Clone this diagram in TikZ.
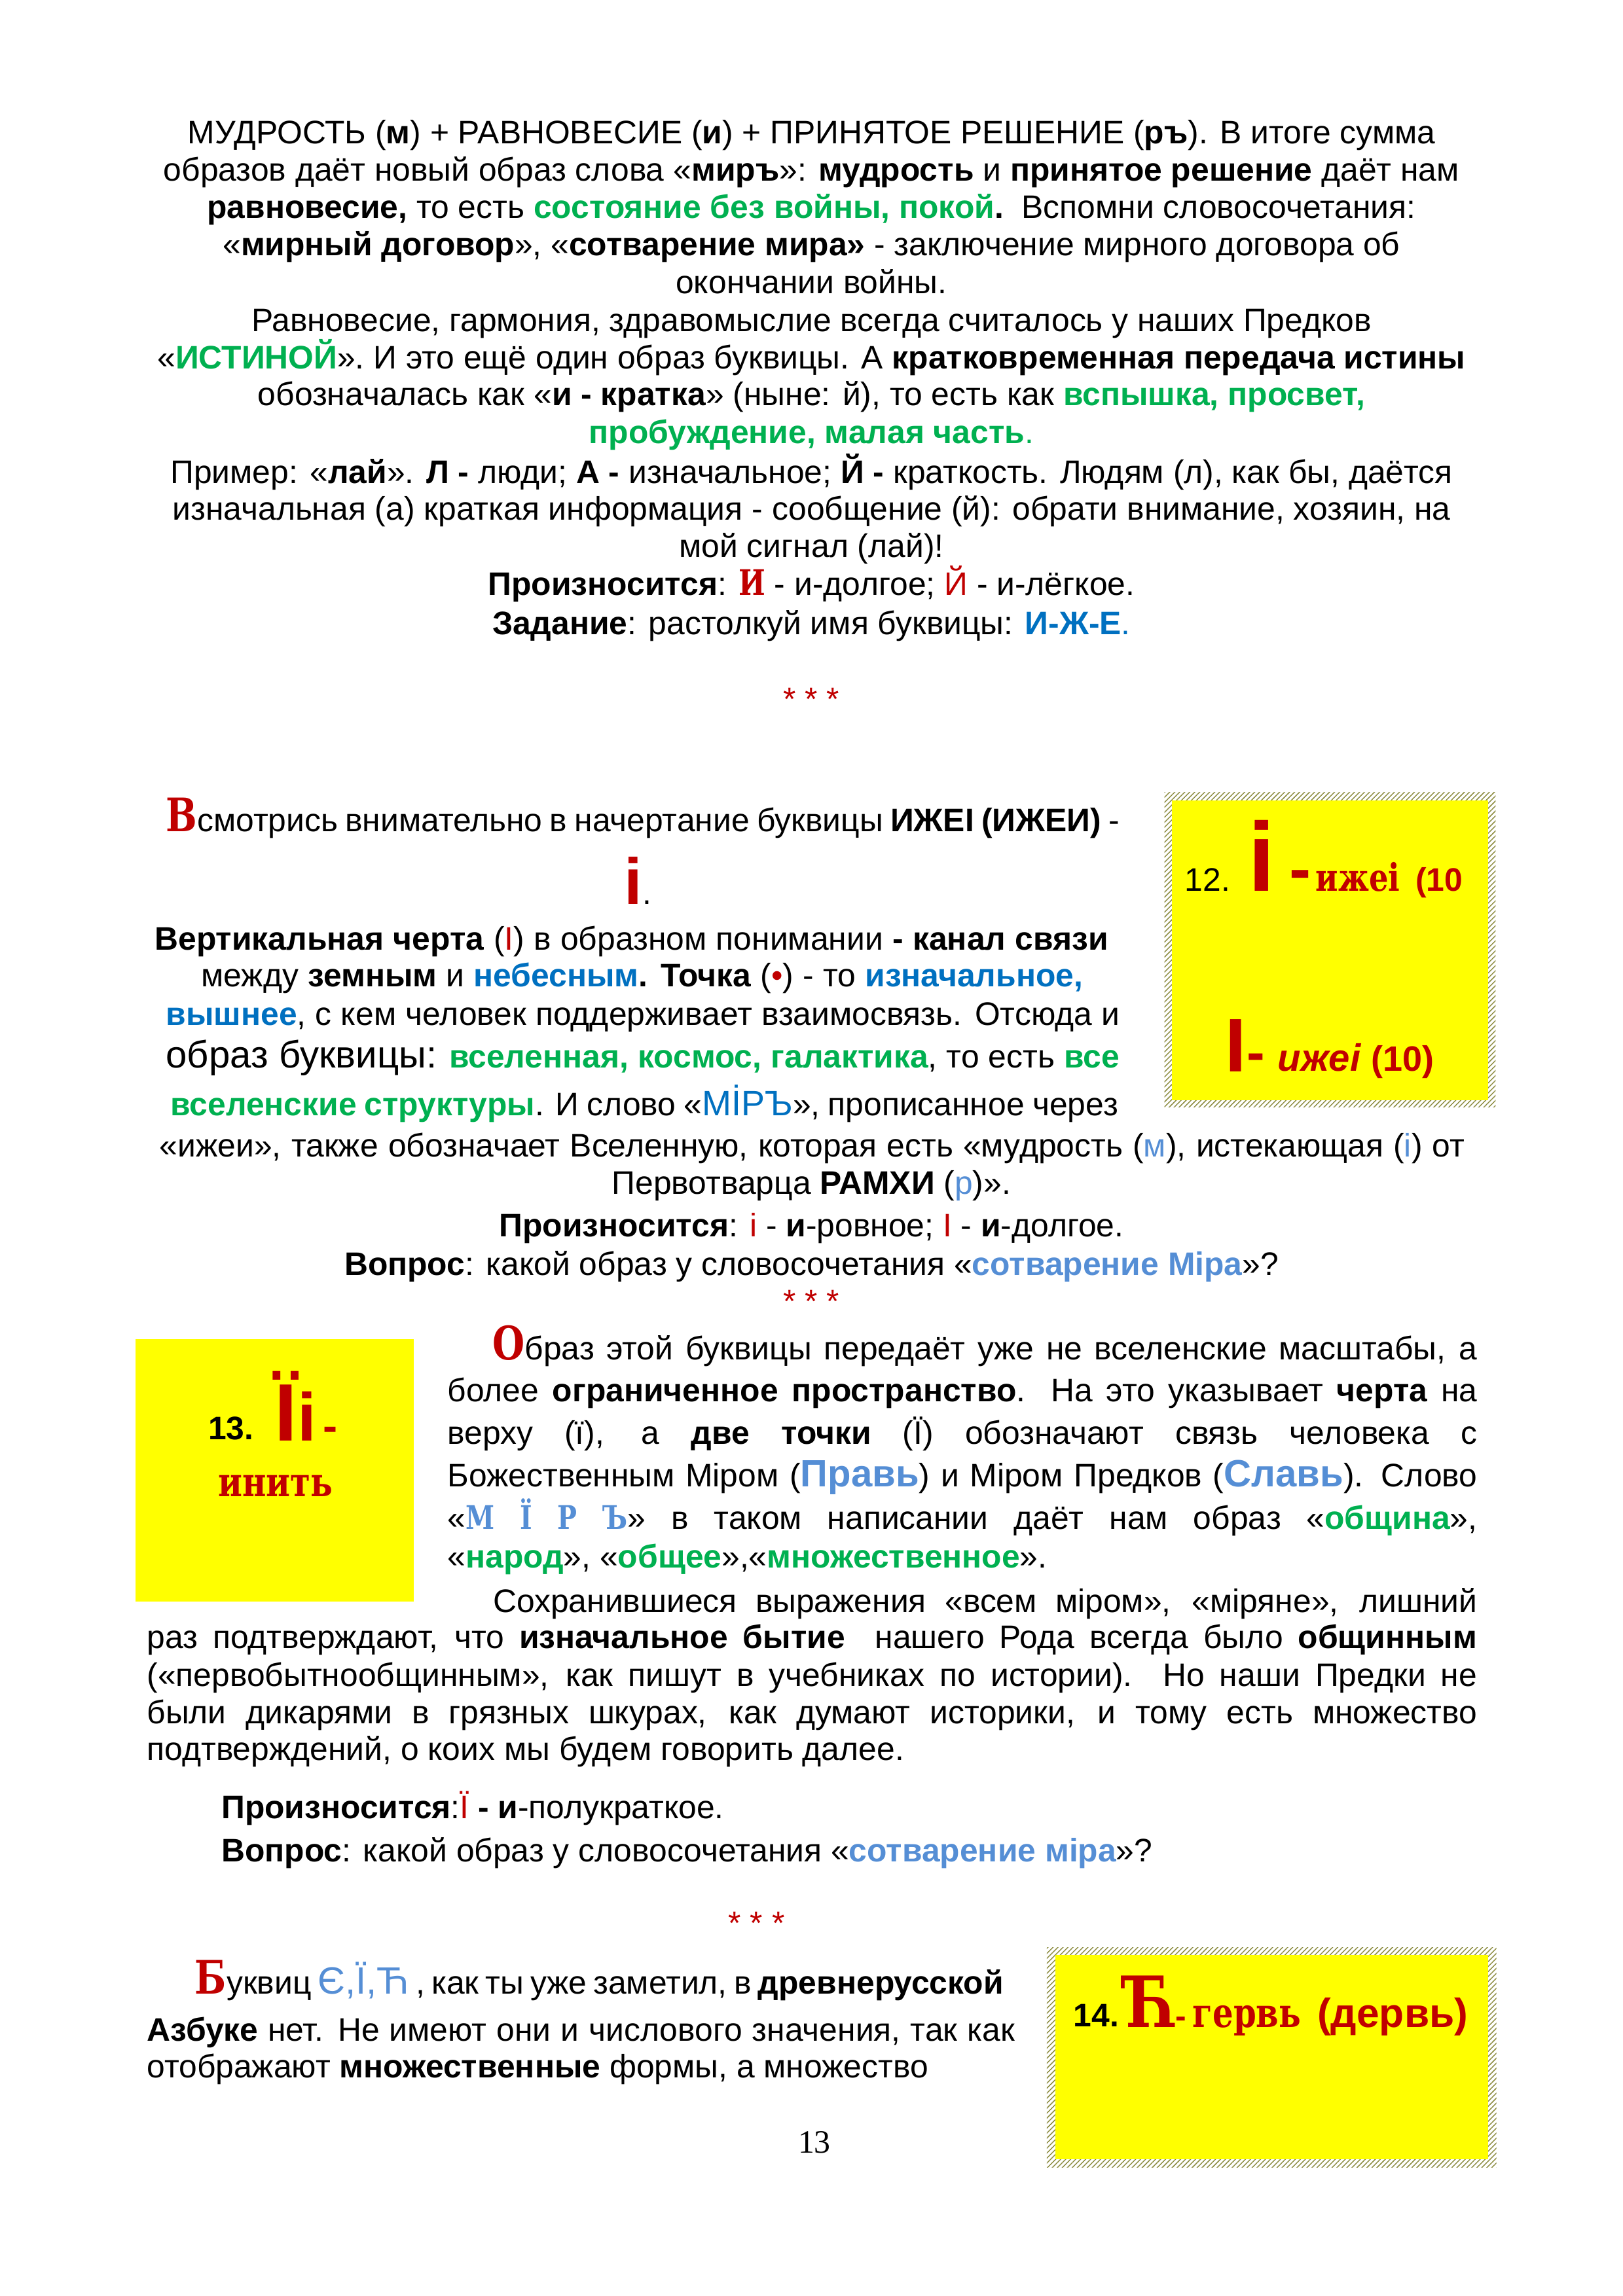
\documentclass[tikz,border=0pt]{standalone}
\usepackage{fontspec}
\setmainfont{Liberation Sans}
\newfontfamily\slav[FakeStretch=0.8]{DejaVu Serif}
\newfontfamily\tms{Liberation Serif}
\usetikzlibrary{patterns.meta}

\definecolor{rd}{HTML}{C00000}
\definecolor{gn}{HTML}{00B050}
\definecolor{bl}{HTML}{0070C0}
\definecolor{lb}{HTML}{558ED5}
\definecolor{yl}{HTML}{FFFF00}

\newlength\px
\setlength\px{0.0189531cm}
\newcommand\fsz[1]{\fontsize{#1}{#1}\selectfont}
\newcommand\grn[1]{\textcolor{gn}{\bfseries #1}}
\newcommand\blu[1]{\textcolor{bl}{\bfseries #1}}
\newcommand\lblu[1]{\textcolor{lb}{\bfseries #1}}
\newcommand\lbl[1]{\textcolor{lb}{#1}}
\newcommand\redt[1]{\textcolor{rd}{#1}}

\tikzset{
  ln/.style={anchor=base west, inner sep=0pt},
  mid/.style={anchor=base, inner sep=0pt},
  stars/.style={anchor=base, inner sep=0pt, text=rd},
  hatch/.style={pattern={Lines[angle=45,distance=1.3pt,line width=0.35pt]}, pattern color=black!50!olive!60},
  ybox/.style={fill=yl}
}

\begin{document}
\begin{tikzpicture}[x=0.0189531cm, y=-0.0189531cm, font=\fontsize{12}{14}\selectfont]
    \useasboundingbox (0,0) rectangle (1108,1568);

    % boxes
    \fill[hatch] (795,541) rectangle (1021,756);
    \fill[ybox] (800,546.6) rectangle (1016,751.3);
    \fill[ybox] (92.6,914.5) rectangle (282.5,1093.7);
    \fill[hatch] (714.7,1330) rectangle (1021.6,1480);
    \fill[ybox] (720.5,1335) rectangle (1016,1474.5);

    % top part
    \node[mid] (l1) at (554,98.3) {МУДРОСТЬ (\textbf{м}) + РАВНОВЕСИЕ (\textbf{и}) + ПРИНЯТОЕ РЕШЕНИЕ (\textbf{ръ}). В итоге сумма};
    \node[mid] (l2) at (554,123.8) {образов даёт новый образ слова «\textbf{миръ}»: \textbf{мудрость} и \textbf{принятое решение} даёт нам};
    \node[mid] (l3) at (554,149) {\textbf{равновесие,} то есть \grn{состояние без войны, покой}\textbf{.}\ \ Вспомни словосочетания:};
    \node[mid] (l4) at (554,174.6) {«\textbf{мирный договор}», «\textbf{сотварение мира»} - заключение мирного договора об};
    \node[mid] (l5) at (554,200.3) {окончании войны.};
    \node[mid] (l6) at (554,226.5) {Равновесие, гармония, здравомыслие всегда считалось у наших Предков};
    \node[mid] (l7) at (554,251.7) {«\grn{ИСТИНОЙ}». И это ещё один образ буквицы. А \textbf{кратковременная передача истины}};
    \node[mid] (l8) at (554,277) {обозначалась как «\textbf{и - кратка}» (ныне: й), то есть как \grn{вспышка, просвет,}};
    \node[mid] (l9) at (554,303) {\grn{пробуждение, малая часть}\textcolor{gn}{.}};
    \node[mid] (l10) at (554,330) {Пример: «\textbf{лай}». \textbf{Л -} люди; \textbf{А -} изначальное; \textbf{Й -} краткость. Людям (л), как бы, даётся};
    \node[mid] (l11) at (554,355.3) {изначальная (а) краткая информация - сообщение (й): обрати внимание, хозяин, на};
    \node[mid] (l12) at (554,380.7) {мой сигнал (лай)!};
    \node[mid] (l13) at (554,406.7) {\textbf{Произносится}: {\slav\bfseries\fsz{13}\color{rd}И} - и-долгое; \redt{Й} - и-лёгкое.};
    \node[mid] (l14) at (554,433.5) {\textbf{Задание}: растолкуй имя буквицы: \blu{И-Ж-Е}\textcolor{bl}{.}};
    \node[stars] (s1) at (554,485) {* * *};

    % letter 12
    \node[ln] (m1) at (113,568) {\hbox to 651\px{{\slav\bfseries\fsz{17}\color{rd}В}смотрись внимательно в начертание буквицы \textbf{ИЖЕІ (ИЖЕИ)} -}};
    \node[ln] (m2) at (426,617.6) {{\color{rd}\bfseries\fsz{24}і}.};
    \node[ln] (m3) at (105.3,648.8) {\hbox to 651\px{\textbf{Вертикальная черта} (\redt{І}) в образном понимании \textbf{- канал связи}}};
    \node[ln] (m4) at (137,674) {\hbox to 602\px{между \textbf{земным} и \blu{небесным}\textbf{. Точка} (\redt{•}) - то \blu{изначальное,}}};
    \node[ln] (m5) at (113,700.3) {\hbox to 651\px{\blu{вышнее}, с кем человек поддерживает взаимосвязь. Отсюда и}};
    \node[ln] (m6) at (113,729.3) {\hbox to 651\px{{\fsz{14}образ буквицы:} \grn{вселенная, космос, галактика}, то есть \grn{все}}};
    \node[ln] (m7) at (116,762) {\hbox to 647\px{\grn{вселенские структуры}. И слово «\textcolor{bl}{\fsz{13}МİРЪ}», прописанное через}};
    \node[ln] (m8) at (108.6,790) {\hbox to 891\px{«ижеи», также обозначает Вселенную, которая есть «мудрость (\lbl{м}), истекающая (\lbl{і}) от}};
    \node[mid] (m9) at (554,815.7) {Первотварца \textbf{РАМХИ} (\lbl{р})».};
    \node[mid] (m10) at (554,844.7) {\textbf{Произносится}: \redt{і} - \textbf{и}-ровное; \redt{І} - \textbf{и}-долгое.};
    \node[mid] (m11) at (554,870.8) {\textbf{Вопрос}: какой образ у словосочетания «\lblu{сотварение Міра}»?};
    \node[stars] (s2) at (554,896.5) {* * *};

    % box 12
    \node[ln] (b12n) at (808.5,608.6) {12.};
    \node[ln] (b12i) at (852,608.6) {\color{rd}\bfseries\fsz{36}і};
    \node[ln] (b12d) at (880,608.6) {\color{rd}\bfseries\fsz{24}-};
    \node[ln] (b12w) at (898,608.6) {\slav\bfseries\color{rd}\fsz{14}ижеі};
    \node[ln] (b12p) at (966,608.6) {\color{rd}\bfseries (10};
    \node[ln] (b12I) at (836,732) {\color{rd}\bfseries\fsz{28}І};
    \node[ln] (b12e) at (851,731.5) {\color{rd}\bfseries\fsz{20}-};
    \node[ln] (b12f) at (872,731.5) {\color{rd}\bfseries\itshape\fsz{14}ижеі};
    \node[ln] (b12g) at (936,731.5) {\color{rd}\bfseries\fsz{13}(10)};

    % letter 13
    \node[ln] (b13n) at (141.8,983.3) {\bfseries 13.};
    \node[ln] (b13a) at (187,984) {\color{rd}\bfseries\fsz{30}Ї};
    \node[ln] (b13b) at (203,984) {\color{rd}\bfseries\fsz{25}і};
    \node[ln] (b13c) at (220,984) {\color{rd}\bfseries\fsz{16}-};
    \node[mid] (b13d) at (188,1022) {\slav\bfseries\color{rd}\fsz{15}инить};

    \node[ln] (p1) at (336,928.8) {\hbox to 672\px{{\slav\bfseries\fsz{17}\color{rd}О}браз этой буквицы передаёт уже не вселенские масштабы, а}};
    \node[ln] (p2) at (305.2,957) {\hbox to 703\px{более \textbf{ограниченное пространство}. На это указывает \textbf{черта} на}};
    \node[ln] (p3) at (305.2,986.3) {\hbox to 703\px{верху (ї), а \textbf{две точки} (Ї) обозначают связь человека с}};
    \node[ln] (p4) at (305.2,1015.4) {\hbox to 703\px{Божественным Міром (\lblu{\fsz{14}Правь}) и Міром Предков (\lblu{\fsz{14}Славь}). Слово}};
    \node[ln] (p5) at (305.2,1044.5) {\hbox to 703\px{«\lbl{\slav\bfseries М Ї Р Ъ}» в таком написании даёт нам образ «\grn{община}»,}};
    \node[ln] (p6) at (305.2,1070.5) {«\grn{народ}», «\grn{общее}»,«\grn{множественное}».};
    \node[ln] (p7) at (336.3,1101) {\hbox to 672\px{Сохранившиеся выражения «всем міром», «міряне», лишний}};
    \node[ln] (p8) at (100,1125.5) {\hbox to 908\px{раз подтверждают, что \textbf{изначальное бытие}\ \ нашего Рода всегда было \textbf{общинным}}};
    \node[ln] (p9) at (100,1151.6) {\hbox to 908\px{(«первобытнообщинным», как пишут в учебниках по истории). Но наши Предки не}};
    \node[ln] (p10) at (100,1177) {\hbox to 908\px{были дикарями в грязных шкурах, как думают историки, и тому есть множество}};
    \node[ln] (p11) at (100,1202.3) {подтверждений, о коих мы будем говорить далее.};
    \node[ln] (p12) at (150.8,1241.7) {\textbf{Произносится}:\redt{Ї} \textbf{- и}-полукраткое.};
    \node[ln] (p13) at (150.8,1271.6) {\textbf{Вопрос}: какой образ у словосочетания «\lblu{сотварение міра}»?};
    \node[stars] (s3) at (516.5,1321) {* * *};

    % letter 14
    \node[ln] (q1) at (132.8,1361.7) {\hbox to 552\px{{\slav\bfseries\fsz{17}\color{rd}Б}уквиц \lbl{\fsz{14}Є,Ї,Ћ} , как ты уже заметил, в \textbf{древнерусской}}};
    \node[ln] (q2) at (100,1393.7) {\hbox to 592.5\px{\textbf{Азбуке} нет. Не имеют они и числового значения, так как}};
    \node[ln] (q3) at (100,1419) {отображают \textbf{множественные} формы, а множество};

    \node[ln] (b14n) at (732.6,1384) {\bfseries 14.};
    \node[ln] (b14h) at (767,1384.6) {\slav\bfseries\color{rd}\fsz{26}Ћ};
    \node[ln] (b14d) at (802,1384.6) {\color{rd}\bfseries -};
    \node[ln] (b14g) at (814,1384.6) {\slav\bfseries\color{rd}\fsz{15}гервь};
    \node[ln] (b14p) at (899,1384.6) {\color{rd}\bfseries\fsz{15}(дервь)};

    \node[mid, font=\tms\fontsize{12}{14}\selectfont] (pg) at (556,1470.5) {13};
\end{tikzpicture}
\end{document}
